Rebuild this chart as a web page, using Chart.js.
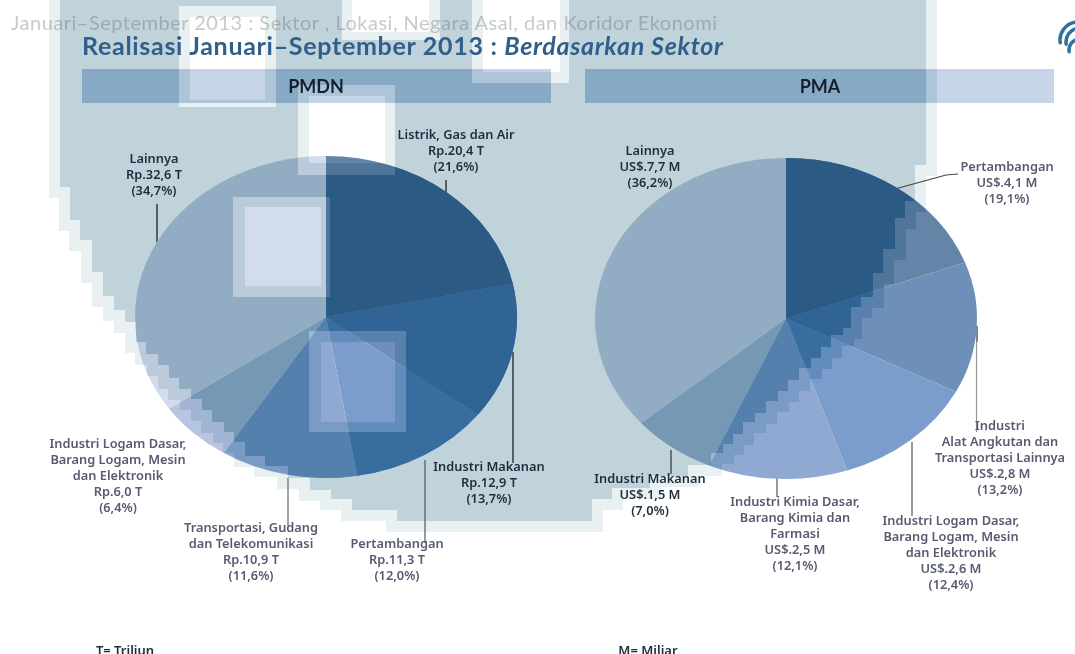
<!DOCTYPE html>
<html>
<head>
<meta charset="utf-8">
<title>Realisasi Januari-September 2013</title>
<script src="https://cdn.jsdelivr.net/npm/chart.js@4"></script>
<style>
    html, body { margin: 0; padding: 0; background: #fff; overflow: hidden; }
    #page { position: relative; width: 1075px; height: 654px; overflow: hidden; }
    canvas { position: absolute; left: 0; top: 0; }
    .txt { position: absolute; white-space: nowrap; filter: blur(0.35px); }
    .label { font: 600 12.8px/16.1px "Noto Sans", sans-serif; text-align: center; transform: translateX(-50%); }
    .dark { color: #1f2c3f; }
    .soft { color: #565b72; }
</style>
</head>
<body>
<div id="page">
    <canvas id="backdrop" width="1075" height="654"></canvas>
    <canvas id="pmdnChart" width="1075" height="654"></canvas>
    <canvas id="pmaChart" width="1075" height="654"></canvas>
</div>
<script>
const pmdnSectors = [
    ["Listrik, Gas dan Air"],
    ["Industri Makanan"],
    ["Pertambangan"],
    ["Transportasi, Gudang", "dan Telekomunikasi"],
    ["Industri Logam Dasar,", "Barang Logam, Mesin", "dan Elektronik"],
    ["Lainnya"]
];
const pmdnValues = [20.4, 12.9, 11.3, 10.9, 6.0, 32.6];
const pmdnPercents = [21.6, 13.7, 12.0, 11.6, 6.4, 34.7];

const pmaSectors = [
    ["Pertambangan"],
    ["Industri", "Alat Angkutan dan", "Transportasi Lainnya"],
    ["Industri Logam Dasar,", "Barang Logam, Mesin", "dan Elektronik"],
    ["Industri Kimia Dasar,", "Barang Kimia dan", "Farmasi"],
    ["Industri Makanan"],
    ["Lainnya"]
];
const pmaValues = [4.1, 2.8, 2.6, 2.5, 1.5, 7.7];
const pmaPercents = [19.1, 13.2, 12.4, 12.1, 7.0, 36.2];

// Slice colours on the grey-blue backdrop and where the backdrop is missing
const sliceColors = ["#2b5a85", "#2f6494", "#376d9f", "#5380ad", "#7598b5", "#92acc3"];
const fadedColors = ["#6585a8", "#6e90b8", "#7a9dcb", "#8fa9d3", "#b7c5e0", "#d3dcea"];

// Outline of the pixelated backdrop: [from y, x]
const leftSteps = [[0, 60], [187, 70], [220, 80], [240, 92], [272, 103], [296, 114], [310, 125], [322, 136],
    [342, 146], [354, 158], [365, 169], [378, 179], [389, 191], [399, 202], [410, 212], [422, 224], [432, 234],
    [442, 245], [456, 265], [466, 288], [478, 310], [490, 331], [499, 352], [510, 397]];
const rightSteps = [[0, 926], [165, 915], [201, 905], [218, 895], [249, 883], [273, 873], [297, 861], [307, 851],
    [328, 843], [335, 831], [347, 821], [358, 811], [368, 799], [380, 788], [391, 778], [401, 766], [413, 755],
    [422, 743], [434, 733], [444, 723], [453, 711], [465, 688], [476, 650], [488, 612], [499, 592]];
const backdropBottom = 521;
const blockSize = 11;
const fringeAlpha = 0.35;

// Holes in the backdrop: inner rectangle is fully clear, outer one half clear
const holes = [
    { inner: [190, 17, 265, 100], outer: [179, 6, 276, 107] },
    { inner: [309, 96, 385, 163], outer: [298, 85, 395, 175] },
    { inner: [352, 0, 429, 32], outer: [342, 0, 440, 40] },
    { inner: [483, 0, 560, 72], outer: [472, 0, 569, 83] },
    { inner: [245, 207, 321, 286], outer: [233, 197, 330, 297] },
    { inner: [321, 342, 395, 422], outer: [309, 331, 406, 432] }
];

function stepValue(steps, y) {
    let x = steps[0][1];
    steps.forEach(step => {
        if (y >= step[0]) x = step[1];
    });
    return x;
}

// Builds the backdrop mask row by row. grow = 0 gives the solid part, grow = blockSize the half tone fringe
function buildMask(grow) {
    const path = new Path2D();
    const rects = holes.map(hole => grow ? hole.inner : hole.outer);
    for (let y = 0; y < backdropBottom + grow; y++) {
        let start = stepValue(leftSteps, y - grow) - grow;
        const end = stepValue(rightSteps, y - grow) + grow;
        const cuts = rects.filter(r => y >= r[1] && y < r[3]).sort((a, b) => a[0] - b[0]);
        cuts.forEach(r => {
            if (r[0] > start) path.rect(start, y, r[0] - start, 1);
            start = Math.max(start, r[2]);
        });
        if (end > start) path.rect(start, y, end - start, 1);
    }
    return path;
}

const solidMask = buildMask(0);
const fringeMask = buildMask(blockSize);

function drawBackdrop() {
    const ctx = document.getElementById('backdrop').getContext('2d');
    const bars = [[82, 69, 469, 34], [585, 69, 469, 34]];

    // Header bars where the backdrop is missing
    ctx.fillStyle = "#c7d5e8";
    bars.forEach(b => ctx.fillRect(b[0], b[1], b[2], b[3]));

    // Backdrop and darker header bars, first the half tone fringe then the solid part
    [[fringeMask, fringeAlpha], [solidMask, 1]].forEach(([mask, alpha]) => {
        ctx.save();
        ctx.clip(mask);
        ctx.globalAlpha = alpha;
        ctx.fillStyle = "#c1d3da";
        ctx.fillRect(0, 0, 1075, 654);
        ctx.fillStyle = "#87a9c5";
        bars.forEach(b => ctx.fillRect(b[0], b[1], b[2], b[3]));
        ctx.restore();
    });

    // Leader lines
    const leaders = [
        [[446, 180], [446, 199], "#111"],
        [[157, 204], [157, 243], "#111"],
        [[513, 352], [513, 463], "#111"],
        [[425, 460], [425, 543], "#555"],
        [[288, 478], [288, 526], "#666"],
        [[895, 189], [946, 175], "#444"],
        [[946, 175], [958, 174], "#444"],
        [[977, 326], [977, 342], "#333"],
        [[976.5, 342], [976.5, 432], "#999"],
        [[912, 442], [912, 516], "#555"],
        [[777, 478], [777, 497], "#555"],
        [[671, 450], [671, 474], "#333"]
    ];
    ctx.lineWidth = 1.2;
    leaders.forEach(l => {
        ctx.strokeStyle = l[2];
        ctx.beginPath();
        ctx.moveTo(l[0][0], l[0][1]);
        ctx.lineTo(l[1][0], l[1][1]);
        ctx.stroke();
    });

    // Logo cut off at the right edge
    ctx.strokeStyle = "#2d6f9f";
    ctx.lineCap = "round";
    ctx.lineWidth = 3.5;
    [[1078, 40, 18], [1080, 42, 14], [1080, 50, 11]].forEach(a => {
        ctx.beginPath();
        ctx.arc(a[0], a[1], a[2], Math.PI * 0.95, Math.PI * 1.45);
        ctx.stroke();
    });
}

// Plugin: flattens the pie to an ellipse and repaints it darker where the backdrop lies behind it
const flatPiePlugin = {
    id: 'flatPie',
    beforeDatasetsDraw(chart, args, opts) {
        chart.ctx.save();
        flatten(chart.ctx, opts);
    },
    afterDatasetsDraw(chart, args, opts) {
        const ctx = chart.ctx;
        ctx.restore();
        [[fringeMask, fringeAlpha], [solidMask, 1]].forEach(([mask, alpha]) => {
            ctx.save();
            ctx.clip(mask);
            ctx.globalAlpha = alpha;
            flatten(ctx, opts);
            chart.getDatasetMeta(0).data.forEach((arc, i) => {
                const saved = arc.options;
                arc.options = Object.assign({}, saved, { backgroundColor: sliceColors[i] });
                arc.draw(ctx);
                arc.options = saved;
            });
            ctx.restore();
        });
    }
};

function flatten(ctx, opts) {
    ctx.translate(opts.cx, opts.cy);
    ctx.scale(1, opts.ry / opts.rx);
    ctx.translate(-opts.cx, -opts.cy);
}

function renderPie(canvasId, values, cx, cy, rx, ry) {
    return new Chart(document.getElementById(canvasId), {
        type: 'pie',
        data: {
            labels: values.map((v, i) => i),
            datasets: [{
                data: values,
                backgroundColor: fadedColors,
                borderWidth: 0
            }]
        },
        options: {
            responsive: false,
            animation: false,
            events: [],
            layout: {
                padding: { left: cx - rx, right: 1075 - cx - rx, top: cy - rx, bottom: 654 - cy - rx }
            },
            plugins: {
                legend: { display: false },
                tooltip: { enabled: false },
                flatPie: { cx: cx, cy: cy, rx: rx, ry: ry }
            }
        },
        plugins: [flatPiePlugin]
    });
}

function addText(text, left, top, css, className) {
    const div = document.createElement('div');
    div.className = className || 'txt';
    div.style.cssText = `left:${left}px;top:${top}px;${css || ''}`;
    div.innerHTML = text;
    document.getElementById('page').appendChild(div);
}

function addLabel(sector, valueText, percent, cx, top, tone) {
    const lines = sector.concat([valueText, `(${percent.toFixed(1).replace('.', ',')}%)`]);
    addText(lines.join('<br>'), cx, top, '', `txt label ${tone}`);
}

function rupiah(v) {
    return `Rp.${v.toFixed(1).replace('.', ',')} T`;
}

function dollar(v) {
    return `US$.${v.toFixed(1).replace('.', ',')} M`;
}

drawBackdrop();
renderPie('pmdnChart', pmdnValues, 326, 317, 191, 161);
renderPie('pmaChart', pmaValues, 786, 318.5, 191, 160.5);

// Titles
addText("Januari–September 2013 : Sektor , Lokasi, Negara Asal, dan Koridor Ekonomi", 11, 10,
    'font:400 20px Lato,sans-serif;letter-spacing:0.5px;color:rgba(85,90,95,0.33);');
addText('Realisasi Januari–September 2013 : <i>Berdasarkan Sektor</i>', 82, 30,
    'font:700 25px Lato,sans-serif;letter-spacing:0.7px;color:#2f5f8a;');
addText('PMDN', 316, 75, 'font:700 18px Lato,sans-serif;color:#14202e;transform:translateX(-50%);');
addText('PMA', 820, 75, 'font:700 18px Lato,sans-serif;color:#14202e;transform:translateX(-50%);');

// PMDN labels
const pmdnPlaces = [[456, 126, 'dark'], [489, 458, 'dark'], [397, 535, 'soft'], [251, 519, 'soft'], [118, 435, 'soft'], [154, 150, 'dark']];
pmdnSectors.forEach((sector, i) => {
    addLabel(sector, rupiah(pmdnValues[i]), pmdnPercents[i], pmdnPlaces[i][0], pmdnPlaces[i][1], pmdnPlaces[i][2]);
});

// PMA labels
const pmaPlaces = [[1007, 158, 'soft'], [1000, 417, 'soft'], [951, 512, 'soft'], [795, 493, 'soft'], [650, 470, 'dark'], [650, 142, 'dark']];
pmaSectors.forEach((sector, i) => {
    addLabel(sector, dollar(pmaValues[i]), pmaPercents[i], pmaPlaces[i][0], pmaPlaces[i][1], pmaPlaces[i][2]);
});

// Footnotes
addText('T= Triliun', 125, 641, 'font:600 13px "Noto Sans",sans-serif;color:#1f2c3f;transform:translateX(-50%);');
addText('M= Miliar', 648, 641, 'font:600 13px "Noto Sans",sans-serif;color:#1f2c3f;transform:translateX(-50%);');
</script>
</body>
</html>
